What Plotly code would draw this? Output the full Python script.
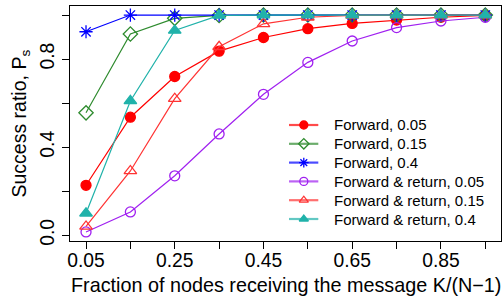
import plotly.graph_objects as go

x_vals = [0.05, 0.15, 0.25, 0.35, 0.45, 0.55, 0.65, 0.75, 0.85, 0.95]
fwd_005 = [0.227, 0.536, 0.721, 0.836, 0.898, 0.938, 0.962, 0.977, 0.99, 0.998]
fwd_015 = [0.556, 0.914, 0.985, 0.998, 1.0, 1.0, 1.0, 1.0, 1.0, 1.0]
fwd_04 = [0.924, 1.0, 1.0, 1.0, 1.0, 1.0, 1.0, 1.0, 1.0, 1.0]
fr_005 = [0.015, 0.106, 0.27, 0.46, 0.64, 0.785, 0.882, 0.943, 0.973, 0.99]
fr_015 = [0.04, 0.292, 0.62, 0.856, 0.96, 0.99, 0.998, 1.0, 1.0, 1.0]
fr_04 = [0.10, 0.61, 0.93, 0.998, 1.0, 1.0, 1.0, 1.0, 1.0, 1.0]

names = ["Forward, 0.05", "Forward, 0.15", "Forward, 0.4",
         "Forward & return, 0.05", "Forward & return, 0.15", "Forward & return, 0.4"]
series = [fwd_005, fwd_015, fwd_04, fr_005, fr_015, fr_04]
colors = ["#ff0000", "#2e8b2e", "#0000ff", "#a020f0", "#ff3333", "#20b2aa"]
symbols = ["circle", "diamond-open", "asterisk-open", "circle-open", "triangle-up-open", "triangle-up"]
sizes = [10, 11, 11, 10, 11, 11]

x_ticks = [0.05, 0.15, 0.25, 0.35, 0.45, 0.55, 0.65, 0.75, 0.85, 0.95]
x_ticktext = ["0.05", "", "0.25", "", "0.45", "", "0.65", "", "0.85", ""]
y_ticks = [0.0, 0.2, 0.4, 0.6, 0.8, 1.0]
y_ticktext = ["0.0", "", "0.4", "", "0.8", ""]

FONT = "Liberation Sans, Arial, sans-serif"

W, H = 503, 302
L, R, T, B = 70, 2, 6, 61
PW, PH = W - L - R, H - T - B

fig = go.Figure()
for name, ys, c, s, sz in zip(names, series, colors, symbols, sizes):
    fig.add_trace(go.Scatter(
        x=x_vals, y=ys, mode="lines+markers", name=name, showlegend=False,
        line=dict(color=c, width=1.2),
        marker=dict(symbol=s, size=sz, color=c, line=dict(color=c, width=1.3)),
    ))

# custom legend (drawn in an overlay axis spanning the plot area, 0..1)
leg_x0, leg_x1, leg_xm, leg_tx = 289, 318.3, 303.8, 332
leg_y0, leg_dy = 125, 18.8
fx = lambda px: (px - L) / PW
fy = lambda py: (T + PH - py) / PH
annotations = []
for i, (name, c, s) in enumerate(zip(names, colors, symbols)):
    yy = fy(leg_y0 + leg_dy * i)
    fig.add_trace(go.Scatter(
        x=[fx(leg_x0), fx(leg_x1)], y=[yy, yy], mode="lines", xaxis="x2", yaxis="y2",
        showlegend=False, hoverinfo="skip", opacity=0.7,
        line=dict(color=c, width=2.2)))
    fig.add_trace(go.Scatter(
        x=[fx(leg_xm)], y=[yy], mode="markers", xaxis="x2", yaxis="y2",
        showlegend=False, hoverinfo="skip",
        marker=dict(symbol=s, size=8, color=c, line=dict(color=c, width=1.3))))
    annotations.append(dict(text=name, xref="paper", yref="paper", x=fx(leg_tx), y=yy,
                            xanchor="left", yanchor="middle", showarrow=False,
                            font=dict(size=15)))

annotations += [
    dict(text="Fraction of nodes receiving the message K/(N\u22121)",
         xref="paper", yref="paper", x=fx(285.5), y=fy(285), xanchor="center",
         yanchor="middle", showarrow=False, font=dict(size=19.8)),
    dict(text="Success ratio, P<sub>s</sub>",
         xref="paper", yref="paper", x=fx(20), y=0.5, xanchor="center",
         yanchor="middle", textangle=-90, showarrow=False, font=dict(size=19.5)),
]

fig.update_layout(
    width=W, height=H,
    margin=dict(l=L, r=R, t=T, b=B),
    plot_bgcolor="white", paper_bgcolor="white",
    font=dict(family=FONT, size=19, color="black"),
    showlegend=False,
    xaxis=dict(range=[0.0139, 0.9854], tickvals=x_ticks, ticktext=x_ticktext,
               showgrid=False, zeroline=False, showline=True, mirror=True,
               linecolor="black", linewidth=1, ticks="outside", ticklen=7,
               tickcolor="black", tickfont=dict(size=19.3), ticklabelstandoff=-5),
    yaxis=dict(range=[-0.026, 1.041], tickvals=y_ticks, ticktext=y_ticktext,
               showgrid=False, zeroline=False, showline=True, mirror=True,
               linecolor="black", linewidth=1, ticks="outside", ticklen=7,
               tickcolor="black", tickangle=-90, tickfont=dict(size=19.3)),
    xaxis2=dict(overlaying="x", range=[0, 1], visible=False, fixedrange=True),
    yaxis2=dict(overlaying="y", range=[0, 1], visible=False, fixedrange=True),
    annotations=annotations,
)

fig.write_html("out.html", config={"displayModeBar": False},
               post_script="document.body.style.margin='0';")
